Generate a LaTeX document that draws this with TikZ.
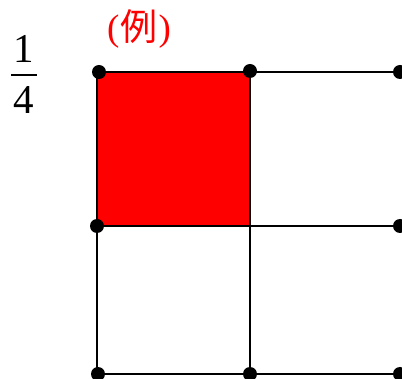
\documentclass[tikz,border=0pt]{standalone}
\usepackage{fontspec}
\setmainfont{Liberation Serif}
\newfontfamily\cjkfont{Noto Sans CJK JP}
\begin{document}
\begin{tikzpicture}[x=1pt,y=-1pt,
  gridline/.style={line width=1.7pt,black},
  dot/.style={circle,fill=black,inner sep=0pt,minimum size=14pt},
  digit/.style={inner sep=0pt,font=\fontsize{41}{44}\selectfont}]
\useasboundingbox (0,0) rectangle (402,379);
% grid coordinates
\coordinate (a1) at (97,72);
\coordinate (a2) at (250,72);
\coordinate (a3) at (402,72);
\coordinate (b1) at (97,226);
\coordinate (b2) at (250,226);
\coordinate (b3) at (402,226);
\coordinate (c1) at (97,374);
\coordinate (c2) at (250,374);
\coordinate (c3) at (402,374);
% red square
\fill[red] (a1) rectangle (b2);
% lines
\draw[gridline] (a1) -- (a3);
\draw[gridline] (b1) -- (b3);
\draw[gridline] (c1) -- (c3);
\draw[gridline] (a1) -- (c1);
\draw[gridline] (a2) -- (c2);
% dots
\node[dot] (d1) at (99,72) {};
\node[dot] (d2) at (250,71) {};
\node[dot] (d3) at (400,72) {};
\node[dot] (d4) at (97,226) {};
\node[dot] (d5) at (400,226) {};
\node[dot] (d6) at (98,374) {};
\node[dot] (d7) at (250,374) {};
\node[dot] (d8) at (400,374) {};
% fraction
\node[digit] (num) at (24,49) {1};
\node[digit] (den) at (24,100) {4};
\coordinate (barL) at (11,75);
\coordinate (barR) at (37,75);
\draw[line width=1.2pt] (barL) -- (barR);
% label
\node[inner sep=0pt,text=red,font=\fontsize{37}{40}\selectfont] (lbl) at (139,29) {(\kern1pt{\cjkfont 例}\kern1pt)};
\end{tikzpicture}
\end{document}
